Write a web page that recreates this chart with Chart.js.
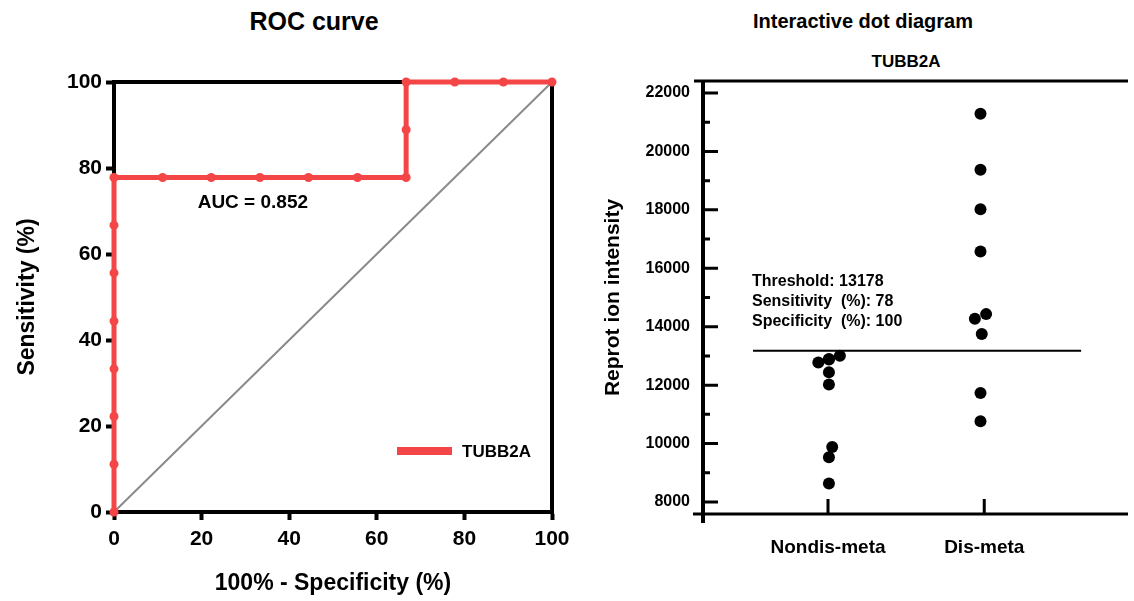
<!DOCTYPE html>
<html>
<head>
<meta charset="utf-8">
<script src="https://cdn.jsdelivr.net/npm/chart.js@4.4.1/dist/chart.umd.min.js"></script>
<style>
  body { margin: 0; background: #fff; width: 1134px; height: 601px; position: relative; overflow: hidden;
         font-family: "Liberation Sans", Arial, sans-serif; }
  .heading { position: absolute; font-weight: bold; color: #000; line-height: 1; white-space: nowrap;
             transform: translateX(-50%); }
  canvas { position: absolute; top: 0; }
</style>
</head>
<body>
<div class="heading" style="left:314px;top:9px;font-size:25px">ROC curve</div>
<div class="heading" style="left:863px;top:11px;font-size:20px">Interactive dot diagram</div>
<div class="heading" style="left:906px;top:53px;font-size:17px">TUBB2A</div>
<canvas id="rocChart" width="580" height="601" style="left:0"></canvas>
<canvas id="dotChart" width="554" height="601" style="left:580px"></canvas>
<script>
const FONT = '"Liberation Sans", Arial, sans-serif';
const RED = '#f44646';

// ROC curve (x = 100% - specificity, y = sensitivity)
const rocFpr = [0, 0, 0, 0, 0, 0, 0, 0, 11.1, 22.2, 33.3, 44.4, 55.6, 66.7, 66.7, 66.7, 77.8, 88.9, 100];
const rocTpr = [0, 11.1, 22.2, 33.3, 44.4, 55.6, 66.7, 77.8, 77.8, 77.8, 77.8, 77.8, 77.8, 77.8, 88.9, 100, 100, 100, 100];
const chanceLine = [0, 100];
const rocTicks = [0, 20, 40, 60, 80, 100];
const rocLabel = 'TUBB2A';
const aucText = 'AUC = 0.852';
const aucAnchor = [31.7, 72];

// dot diagram
const groups = ['Nondis-meta', 'Dis-meta'];
const nondisValues = [13010, 12893, 12880, 12775, 12440, 12025, 9882, 9536, 8632];
const nondisJitter = [0.076, 0.006, 0.006, -0.062, 0.006, 0.006, 0.027, 0.006, 0.006];
const disValues = [21289, 19370, 18024, 16571, 14431, 14269, 13750, 11728, 10764];
const disJitter = [-0.024, -0.024, -0.024, -0.024, 0.012, -0.06, -0.016, -0.024, -0.024];
const threshold = 13178;
const thresholdSpan = [0.52, 2.62];
const thresholdNotes = ['Threshold: 13178', 'Sensitivity  (%): 78', 'Specificity  (%): 100'];
const majorTicks = [8000, 10000, 12000, 14000, 16000, 18000, 20000, 22000];
const minorTicks = [9000, 11000, 13000, 15000, 17000, 19000, 21000];

Chart.defaults.font.family = FONT;
Chart.defaults.color = '#000';

const rocFrame = {
  id: 'rocFrame',
  beforeDatasetsDraw(chart) {
    const { ctx, chartArea: a } = chart;
    ctx.save();
    ctx.strokeStyle = '#000';
    ctx.lineWidth = 4;
    ctx.beginPath();
    ctx.moveTo(a.left - 2, a.top);
    ctx.lineTo(a.right, a.top);
    ctx.lineTo(a.right, a.bottom + 2);
    ctx.stroke();
    ctx.restore();
  },
  afterDatasetsDraw(chart) {
    const { ctx, chartArea: a, scales } = chart;
    const ds = chart.data.datasets[0];
    ctx.save();
    ctx.fillStyle = '#000';
    ctx.font = `bold 19px ${FONT}`;
    ctx.textAlign = 'center';
    ctx.textBaseline = 'middle';
    ctx.fillText(aucText, scales.x.getPixelForValue(aucAnchor[0]), scales.y.getPixelForValue(aucAnchor[1]));

    // legend swatch inside the plot, lower right
    const ly = a.bottom - 61;
    ctx.strokeStyle = ds.borderColor;
    ctx.lineWidth = 8;
    ctx.beginPath();
    ctx.moveTo(a.right - 155, ly);
    ctx.lineTo(a.right - 100, ly);
    ctx.stroke();
    ctx.font = `bold 17px ${FONT}`;
    ctx.textAlign = 'left';
    ctx.fillText(ds.label, a.right - 90, ly + 1);
    ctx.restore();
  }
};

new Chart(document.getElementById('rocChart'), {
  type: 'scatter',
  data: {
    datasets: [
      {
        label: rocLabel,
        data: rocFpr.map((x, i) => ({ x, y: rocTpr[i] })),
        showLine: true,
        borderColor: RED,
        backgroundColor: RED,
        borderWidth: 5,
        pointRadius: 4.5,
        pointBorderWidth: 0,
        clip: false,
      },
      {
        label: 'reference',
        data: chanceLine.map(v => ({ x: v, y: v })),
        showLine: true,
        borderColor: '#8a8a8a',
        borderWidth: 2,
        pointRadius: 0,
        clip: false,
      },
    ],
  },
  options: {
    responsive: false,
    animation: false,
    devicePixelRatio: 1,
    layout: { padding: { top: 82, right: 28, left: 0, bottom: 0 } },
    plugins: { legend: { display: false }, tooltip: { enabled: false } },
    scales: {
      x: {
        type: 'linear',
        min: 0,
        max: 100,
        afterBuildTicks: s => { s.ticks = rocTicks.map(v => ({ value: v })); },
        afterFit: s => { s.height = 89; },
        ticks: { font: { size: 21, weight: 'bold' }, color: '#000', padding: 7, maxRotation: 0 },
        grid: { drawOnChartArea: false, tickLength: 8, tickWidth: 4, tickColor: '#000' },
        border: { color: '#000', width: 4 },
        title: { display: true, text: '100% - Specificity (%)', font: { size: 23, weight: 'bold' }, color: '#000', padding: { top: 0, bottom: 4 } },
      },
      y: {
        min: 0,
        max: 100,
        afterBuildTicks: s => { s.ticks = rocTicks.map(v => ({ value: v })); },
        afterFit: s => { s.width = 114; },
        ticks: { font: { size: 21, weight: 'bold' }, color: '#000', padding: 4 },
        grid: { drawOnChartArea: false, tickLength: 8, tickWidth: 4, tickColor: '#000' },
        border: { color: '#000', width: 4 },
        title: { display: true, text: 'Sensitivity (%)', font: { size: 23, weight: 'bold' }, color: '#000', padding: { top: 14, bottom: 0 } },
      },
    },
  },
  plugins: [rocFrame],
});

// axes with inward tick marks, threshold notes
const dotAxes = {
  id: 'dotAxes',
  beforeDatasetsDraw(chart) {
    const { ctx, chartArea: a, scales } = chart;
    ctx.save();
    ctx.strokeStyle = '#000';
    ctx.lineCap = 'butt';

    ctx.lineWidth = 3;
    ctx.beginPath();
    ctx.moveTo(a.left - 9, a.top);
    ctx.lineTo(a.right, a.top);
    ctx.moveTo(a.left - 10, a.bottom);
    ctx.lineTo(a.right, a.bottom);
    ctx.stroke();

    ctx.lineWidth = 4;
    ctx.beginPath();
    ctx.moveTo(a.left, a.top - 1);
    ctx.lineTo(a.left, a.bottom + 9);
    ctx.stroke();

    ctx.lineWidth = 3;
    ctx.beginPath();
    scales.y.ticks.forEach(t => {
      const py = scales.y.getPixelForValue(t.value);
      const len = majorTicks.includes(t.value) ? 15 : 7;
      ctx.moveTo(a.left, py);
      ctx.lineTo(a.left + len, py);
    });
    scales.x.ticks.forEach(t => {
      const px = scales.x.getPixelForValue(t.value);
      ctx.moveTo(px, a.bottom);
      ctx.lineTo(px, a.bottom - 15);
    });
    ctx.stroke();

    ctx.fillStyle = '#000';
    ctx.font = `bold 16px ${FONT}`;
    ctx.textAlign = 'left';
    ctx.textBaseline = 'middle';
    const tx = scales.x.getPixelForValue(thresholdSpan[0]) - 1;
    const ty = scales.y.getPixelForValue(threshold);
    thresholdNotes.forEach((line, i) => {
      ctx.fillText(line, tx, ty - 69 + i * 20);
    });
    ctx.restore();
  }
};

new Chart(document.getElementById('dotChart'), {
  type: 'scatter',
  data: {
    datasets: [
      {
        label: groups[0],
        data: nondisValues.map((v, i) => ({ x: 1 + nondisJitter[i], y: v })),
        backgroundColor: '#000',
        pointRadius: 6,
        pointBorderWidth: 0,
      },
      {
        label: groups[1],
        data: disValues.map((v, i) => ({ x: 2 + disJitter[i], y: v })),
        backgroundColor: '#000',
        pointRadius: 6,
        pointBorderWidth: 0,
      },
      {
        label: 'threshold',
        data: thresholdSpan.map(x => ({ x, y: threshold })),
        showLine: true,
        borderColor: '#000',
        borderWidth: 2,
        pointRadius: 0,
      },
    ],
  },
  options: {
    responsive: false,
    animation: false,
    devicePixelRatio: 1,
    layout: { padding: { top: 81, right: 0, left: 0, bottom: 0 } },
    plugins: { legend: { display: false }, tooltip: { enabled: false } },
    scales: {
      x: {
        type: 'linear',
        min: 0.2,
        max: 2.92,
        afterBuildTicks: s => { s.ticks = groups.map((g, i) => ({ value: i + 1 })); },
        afterFit: s => { s.height = 87; },
        ticks: {
          font: { size: 19, weight: 'bold' },
          color: '#000',
          padding: 22,
          maxRotation: 0,
          autoSkip: false,
          callback: v => groups[Math.round(v) - 1],
        },
        grid: { display: false, drawTicks: false },
        border: { display: false },
      },
      y: {
        min: 7590,
        max: 22410,
        afterBuildTicks: s => {
          s.ticks = majorTicks.concat(minorTicks).sort((p, q) => p - q).map(v => ({ value: v }));
        },
        afterFit: s => { s.width = 123; },
        ticks: {
          font: { size: 16, weight: 'bold' },
          color: '#000',
          padding: 13,
          autoSkip: false,
          callback: v => (majorTicks.includes(v) ? String(v) : ''),
        },
        grid: { display: false, drawTicks: false },
        border: { display: false },
        title: { display: true, text: 'Reprot ion intensity', font: { size: 21, weight: 'bold' }, color: '#000', padding: { top: 21, bottom: 0 } },
      },
    },
  },
  plugins: [dotAxes],
});
</script>
</body>
</html>
